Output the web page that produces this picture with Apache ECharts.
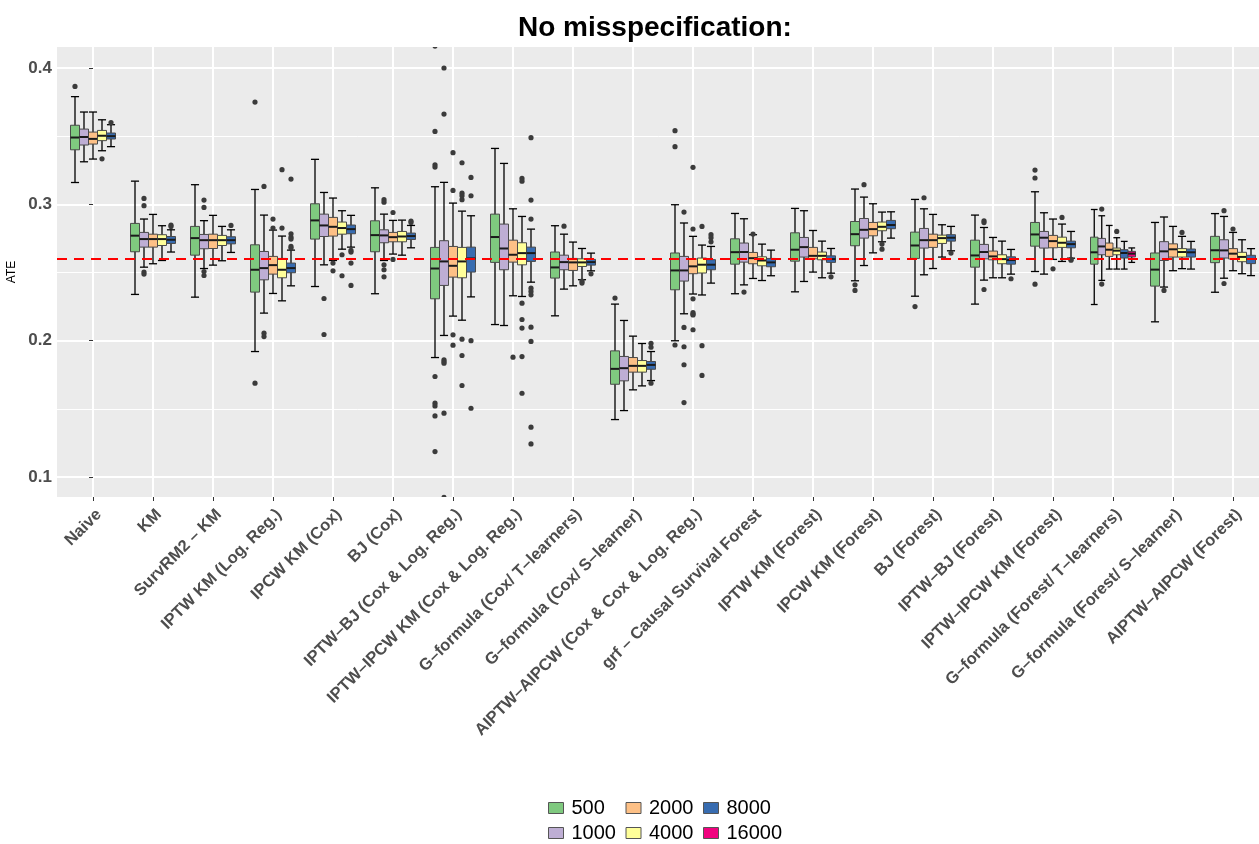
<!DOCTYPE html>
<html>
<head>
<meta charset="utf-8">
<script src="https://cdn.jsdelivr.net/npm/echarts@6/dist/echarts.min.js"></script>
<style>
  html, body { margin: 0; padding: 0; background: #fff; }
  #chart { width: 1259px; height: 844px; }
</style>
</head>
<body>
<div id="chart"></div>
<script>
// methods on the x axis
const categories = [
  'Naive', 'KM', 'SurvRM2 – KM', 'IPTW KM (Log. Reg.)', 'IPCW KM (Cox)', 'BJ (Cox)',
  'IPTW–BJ (Cox & Log. Reg.)', 'IPTW–IPCW KM (Cox & Log. Reg.)', 'G–formula (Cox/ T–learners)',
  'G–formula (Cox/ S–learner)', 'AIPTW–AIPCW (Cox & Cox & Log. Reg.)', 'grf – Causal Survival Forest',
  'IPTW KM (Forest)', 'IPCW KM (Forest)', 'BJ (Forest)', 'IPTW–BJ (Forest)', 'IPTW–IPCW KM (Forest)',
  'G–formula (Forest/ T–learners)', 'G–formula (Forest/ S–learner)', 'AIPTW–AIPCW (Forest)'
];
const sampleSizes = ['500', '1000', '2000', '4000', '8000', '16000'];
const trueATE = 0.2574;

// box stats per category: [lower whisker, Q1, median, Q3, upper whisker]
const box500 = [
  [0.316, 0.340, 0.349, 0.358, 0.379], [0.2339, 0.2652, 0.277, 0.286, 0.317],
  [0.2319, 0.2627, 0.2752, 0.2838, 0.3144], [0.192, 0.2356, 0.252, 0.2703, 0.3109],
  [0.2397, 0.2745, 0.2882, 0.3004, 0.333], [0.2344, 0.2652, 0.2774, 0.2879, 0.3121],
  [0.1876, 0.2307, 0.2529, 0.2684, 0.3129], [0.2118, 0.2574, 0.276, 0.2928, 0.341],
  [0.2182, 0.2459, 0.2537, 0.265, 0.2843], [0.1421, 0.168, 0.1793, 0.1925, 0.2268],
  [0.1999, 0.2373, 0.2515, 0.2643, 0.2997], [0.2344, 0.2561, 0.2649, 0.2747, 0.2933],
  [0.2358, 0.2583, 0.2667, 0.2791, 0.297], [0.2439, 0.2696, 0.2781, 0.2874, 0.3112],
  [0.2326, 0.2603, 0.2698, 0.2796, 0.3036], [0.2268, 0.2539, 0.2625, 0.2737, 0.2921],
  [0.2507, 0.2693, 0.2779, 0.2867, 0.3092], [0.2265, 0.2561, 0.2648, 0.2759, 0.2962],
  [0.2138, 0.2400, 0.2521, 0.2643, 0.2867], [0.2355, 0.2572, 0.2663, 0.2765, 0.2932]
];
const box1000 = [
  [0.3312, 0.3435, 0.3494, 0.3552, 0.3677], [0.2539, 0.2686, 0.2745, 0.2794, 0.2892],
  [0.2529, 0.2674, 0.2737, 0.2779, 0.288], [0.2202, 0.2446, 0.2532, 0.2654, 0.2921],
  [0.2556, 0.2764, 0.2845, 0.2928, 0.3087], [0.2588, 0.2718, 0.2772, 0.2813, 0.2928],
  [0.2038, 0.2405, 0.2581, 0.2733, 0.3161], [0.2111, 0.252, 0.2676, 0.2855, 0.33],
  [0.2378, 0.252, 0.2576, 0.2627, 0.2781], [0.1487, 0.1705, 0.1798, 0.1884, 0.2148],
  [0.2197, 0.2437, 0.2515, 0.2618, 0.2863], [0.2409, 0.2576, 0.265, 0.2716, 0.2894],
  [0.2434, 0.2613, 0.2686, 0.2757, 0.2953], [0.2551, 0.2752, 0.2813, 0.2896, 0.3053],
  [0.2483, 0.2679, 0.2737, 0.2823, 0.2967], [0.2444, 0.26, 0.265, 0.2706, 0.283],
  [0.2488, 0.2679, 0.2755, 0.2801, 0.2938], [0.2442, 0.263, 0.2691, 0.275, 0.2916],
  [0.2393, 0.2588, 0.2655, 0.2726, 0.2907], [0.2458, 0.2606, 0.2662, 0.274, 0.2911]
];
const box2000 = [
  [0.3332, 0.3442, 0.348, 0.353, 0.3677], [0.2564, 0.2686, 0.2745, 0.2781, 0.2926],
  [0.2554, 0.2676, 0.2737, 0.2781, 0.2919], [0.2346, 0.2488, 0.2554, 0.2618, 0.2811],
  [0.2588, 0.2767, 0.2835, 0.2904, 0.3046], [0.2635, 0.2725, 0.2759, 0.2794, 0.2882],
  [0.218, 0.2466, 0.2549, 0.2691, 0.3009], [0.2329, 0.2576, 0.263, 0.2737, 0.2967],
  [0.2402, 0.2515, 0.2574, 0.2603, 0.2723], [0.1639, 0.1769, 0.1815, 0.1876, 0.2033],
  [0.2342, 0.2491, 0.2545, 0.2599, 0.2765], [0.2456, 0.2564, 0.2605, 0.2647, 0.2777],
  [0.2503, 0.26, 0.2622, 0.2684, 0.2808], [0.2644, 0.2769, 0.2818, 0.2867, 0.3004],
  [0.2529, 0.2684, 0.2737, 0.2781, 0.2926], [0.2461, 0.2593, 0.2618, 0.2657, 0.2757],
  [0.2596, 0.2681, 0.273, 0.2772, 0.2892], [0.2525, 0.2618, 0.2667, 0.2716, 0.2845],
  [0.2513, 0.2613, 0.2670, 0.2710, 0.2838], [0.2513, 0.2599, 0.2638, 0.2675, 0.2794]
];
const box4000 = [
  [0.3393, 0.3467, 0.3503, 0.3542, 0.362], [0.2588, 0.2698, 0.2745, 0.2777, 0.2843],
  [0.2586, 0.2698, 0.2737, 0.2772, 0.2838], [0.2292, 0.2461, 0.252, 0.2603, 0.2767],
  [0.2671, 0.2781, 0.2826, 0.287, 0.2953], [0.2627, 0.2725, 0.2764, 0.2801, 0.2884],
  [0.215, 0.2461, 0.2581, 0.2684, 0.295], [0.2324, 0.2556, 0.2642, 0.2718, 0.2911],
  [0.2447, 0.2544, 0.2574, 0.26, 0.2676], [0.1668, 0.1769, 0.1815, 0.1854, 0.1979],
  [0.2335, 0.2496, 0.2557, 0.2606, 0.2701], [0.2441, 0.2549, 0.2588, 0.2615, 0.2708],
  [0.2461, 0.2593, 0.2622, 0.265, 0.273], [0.2725, 0.2806, 0.2835, 0.287, 0.2943],
  [0.2613, 0.2713, 0.2752, 0.2774, 0.285], [0.2461, 0.2564, 0.2598, 0.263, 0.273],
  [0.2581, 0.2684, 0.2718, 0.2759, 0.2855], [0.2525, 0.263, 0.2660, 0.2679, 0.2755],
  [0.2528, 0.2613, 0.265, 0.2675, 0.2765], [0.2491, 0.2579, 0.2614, 0.2648, 0.274]
];
const box8000 = [
  [0.3423, 0.3479, 0.350, 0.3523, 0.3584], [0.265, 0.2713, 0.274, 0.2764, 0.2813],
  [0.2647, 0.271, 0.2737, 0.2762, 0.2813], [0.2402, 0.2498, 0.2532, 0.2569, 0.2664],
  [0.2686, 0.2784, 0.2818, 0.2848, 0.2919], [0.2681, 0.2742, 0.2767, 0.2789, 0.2845],
  [0.2321, 0.2503, 0.2603, 0.2686, 0.2916], [0.2429, 0.2581, 0.2642, 0.2686, 0.2818],
  [0.2512, 0.2554, 0.2576, 0.2596, 0.2642], [0.1707, 0.179, 0.1822, 0.1847, 0.192],
  [0.2422, 0.252, 0.2557, 0.2594, 0.2691], [0.2476, 0.2542, 0.2574, 0.2603, 0.2664],
  [0.2495, 0.2574, 0.2598, 0.2622, 0.2676], [0.2752, 0.2821, 0.2848, 0.2882, 0.2945],
  [0.2659, 0.273, 0.2755, 0.2777, 0.2838], [0.2488, 0.2561, 0.2591, 0.2615, 0.2669],
  [0.2605, 0.2681, 0.2708, 0.273, 0.2801], [0.2525, 0.2606, 0.2643, 0.2667, 0.2728],
  [0.2525, 0.2613, 0.2648, 0.2672, 0.2728], [0.2477, 0.2565, 0.2599, 0.2626, 0.2675]
];
const box16000 = [
  null, null, null, null, null, null, null, null, null, null,
  null, null, null, null, null, null, null, [0.2574, 0.2614, 0.2638, 0.2655, 0.268], null, null
];

// outlying points per category
const out500 = [
  [0.3865], [], [], [0.375, 0.1688], [], [],
  [0.416, 0.3535, 0.329, 0.3273, 0.1737, 0.1541, 0.1521, 0.1448, 0.1186], [], [], [0.2312],
  [0.354, 0.3423, 0.1968], [], [], [0.241, 0.2368], [0.225], [], [0.3251, 0.3193, 0.2414], [], [], []
];
const out1000 = [
  [], [0.3043, 0.299, 0.2503, 0.2488], [0.3031, 0.2977, 0.2507, 0.2478], [0.3131, 0.2055, 0.203],
  [0.2309, 0.2045], [0.3034, 0.3016, 0.2556, 0.252, 0.2468],
  [0.4, 0.3662, 0.1859, 0.1847, 0.1835, 0.1468, 0.085], [], [0.284], [],
  [0.2943, 0.2097, 0.1955, 0.1823, 0.1546], [0.2356], [], [0.3144], [0.3048], [0.2879, 0.2866, 0.2375],
  [], [0.2965, 0.2415], [0.2368], [0.2953, 0.2419]
];
const out2000 = [
  [], [], [], [0.2892, 0.2826], [0.2569, 0.2512], [0.294, 0.2596], [0.3379, 0.3102, 0.2043, 0.1967],
  [0.1879], [], [], [0.3271, 0.2819, 0.2307, 0.2205, 0.2195, 0.2188, 0.208], [0.2782], [], [], [], [],
  [0.2527], [], [], [0.2819]
];
const out4000 = [
  [0.3334], [], [], [0.3254, 0.2826], [0.263, 0.2476], [], [0.3305, 0.3082, 0.3063, 0.3034, 0.2011, 0.1891, 0.1671],
  [0.319, 0.317, 0.2275, 0.2155, 0.2092, 0.1883, 0.1614], [0.2436, 0.2422], [], [0.2838, 0.1963, 0.1745],
  [], [], [0.2708, 0.2671], [], [], [0.2904], [0.2801], [0.2794], []
];
const out8000 = [
  [0.360], [0.2848, 0.2838], [0.2845], [0.3185, 0.2784, 0.2759, 0.2745, 0.2691, 0.2679],
  [0.2662, 0.265, 0.2569, 0.2405], [0.2877, 0.2867], [0.3197, 0.3063, 0.2, 0.1504],
  [0.3489, 0.3031, 0.2892, 0.2385, 0.2361, 0.2336, 0.2099, 0.1994, 0.1365, 0.1242], [0.249],
  [0.1981, 0.1952, 0.1688], [0.2777, 0.2755, 0.2725], [], [0.2468], [], [0.2642], [0.2454],
  [0.2597, 0.259], [], [], []
];
const out16000 = categories.map(() => []);

const boxes = [box500, box1000, box2000, box4000, box8000, box16000];
const outliers = [out500, out1000, out2000, out4000, out8000, out16000];
const colors = ['#7FC97F', '#BEAED4', '#FDC086', '#FFFF99', '#386CB0', '#F0027F'];

// which sample sizes are present in each category (dodge width is shared among them)
const present = categories.map((_, i) => boxes.map((b, g) => (b[i] ? g : -1)).filter(g => g >= 0));

const font = 'Liberation Sans, Arial, sans-serif';

function renderBox(g) {
  return function (params, api) {
    const cat = api.value(0);
    const members = present[cat];
    const pos = members.indexOf(g);
    const band = api.size([1, 0])[0];
    const full = band * 0.75;
    const w = full / members.length;
    const cx = api.coord([cat, 0])[0] - full / 2 + w * (pos + 0.5);
    const y = v => api.coord([cat, v])[1];
    const lo = api.value(1), q1 = api.value(2), med = api.value(3), q3 = api.value(4), hi = api.value(5);
    const cap = w * 0.45;
    const black = { stroke: '#000', lineWidth: 1.3 };
    const children = [
      { type: 'line', shape: { x1: cx, y1: y(hi), x2: cx, y2: y(lo) }, style: black },
      { type: 'line', shape: { x1: cx - cap, y1: y(hi), x2: cx + cap, y2: y(hi) }, style: black },
      { type: 'line', shape: { x1: cx - cap, y1: y(lo), x2: cx + cap, y2: y(lo) }, style: black },
      { type: 'rect', shape: { x: cx - w / 2, y: y(q3), width: w, height: y(q1) - y(q3) },
        style: { fill: colors[g], stroke: '#4a4a4a', lineWidth: 1 } },
      { type: 'line', shape: { x1: cx - w / 2, y1: y(med), x2: cx + w / 2, y2: y(med) },
        style: { stroke: '#1a1a1a', lineWidth: 2 } }
    ];
    outliers[g][cat].forEach(v => {
      children.push({ type: 'circle', shape: { cx: cx, cy: y(v), r: 2.6 }, style: { fill: '#3b3b3b' } });
    });
    return { type: 'group', children: children };
  };
}

const series = sampleSizes.map((name, g) => ({
  name: name,
  type: 'custom',
  clip: true,
  renderItem: renderBox(g),
  itemStyle: { color: colors[g] },
  data: boxes[g].map((b, i) => (b ? [i].concat(b) : null)).filter(d => d),
  z: 3
}));

series[series.length - 1].markLine = {
  silent: true,
  symbol: 'none',
  label: { show: false },
  lineStyle: { color: '#FF0000', type: [10, 7], width: 2 },
  data: [{ yAxis: trueATE }],
  z: 10
};

const chart = echarts.init(document.getElementById('chart'));
chart.setOption({
  animation: false,
  backgroundColor: '#fff',
  title: {
    text: 'No misspecification:',
    left: 513,
    top: 9,
    textStyle: { fontFamily: font, fontSize: 28, fontWeight: 'bold', color: '#000' }
  },
  legend: {
    orient: 'vertical',
    left: 543,
    top: 793,
    height: 48,
    itemGap: 5,
    itemWidth: 15,
    itemHeight: 11,
    itemStyle: { borderColor: '#555', borderWidth: 1 },
    icon: 'rect',
    textStyle: { fontFamily: font, fontSize: 20, color: '#000', lineHeight: 20, width: 49, padding: [0, 0, 0, 3] },
    data: sampleSizes
  },
  grid: {
    left: 57,
    top: 47,
    width: 1212,
    height: 450,
    outerBoundsMode: 'none',
    containLabel: false,
    show: true,
    backgroundColor: '#EBEBEB',
    borderWidth: 0
  },
  xAxis: {
    type: 'value',
    min: -0.6,
    max: 19.6,
    minInterval: 1,
    maxInterval: 1,
    axisLine: { show: false },
    axisTick: { show: true, length: 4, lineStyle: { color: '#333' } },
    splitLine: { show: true, showMinLine: false, showMaxLine: false, lineStyle: { color: '#fff', width: 2 } },
    axisLabel: {
      rotate: 45,
      margin: 9,
      verticalAlign: 'top',
      fontFamily: font,
      fontSize: 16.5,
      fontWeight: 'bold',
      color: '#4D4D4D',
      showMinLabel: false,
      showMaxLabel: false,
      formatter: v => (Math.abs(v - Math.round(v)) < 1e-6 ? categories[Math.round(v)] : '')
    }
  },
  yAxis: [{
    type: 'value',
    min: 0.0853,
    max: 0.4154,
    minInterval: 0.1,
    maxInterval: 0.1,
    name: 'ATE',
    nameLocation: 'middle',
    nameRotate: 90,
    nameGap: 29,
    nameTextStyle: { fontFamily: font, fontSize: 12, color: '#000' },
    axisLine: { show: false },
    axisTick: { show: true, length: 4, lineStyle: { color: '#333' } },
    splitLine: { show: true, showMinLine: false, showMaxLine: false, lineStyle: { color: '#fff', width: 2 } },
    axisLabel: {
      margin: 5,
      fontFamily: font,
      fontSize: 17,
      fontWeight: 'bold',
      color: '#4D4D4D',
      showMinLabel: false,
      showMaxLabel: false,
      formatter: v => (Math.abs(v * 10 - Math.round(v * 10)) < 1e-6 ? v.toFixed(1) : '')
    }
  }, {
    // minor grid lines only
    type: 'value',
    position: 'left',
    min: 0.0853,
    max: 0.4154,
    minInterval: 0.05,
    maxInterval: 0.05,
    axisLine: { show: false },
    axisTick: { show: false },
    axisLabel: { show: false },
    splitLine: { show: true, showMinLine: false, showMaxLine: false, lineStyle: { color: '#fff', width: 1 } }
  }],
  series: series
});
</script>
</body>
</html>
